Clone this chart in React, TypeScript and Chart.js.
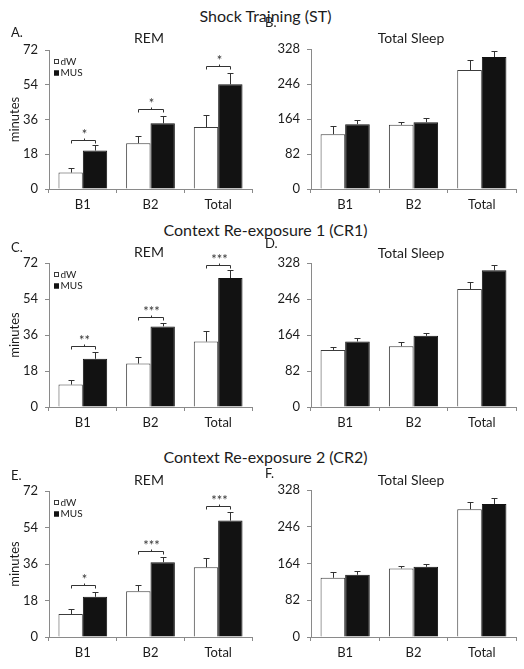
import React, { useEffect, useRef } from 'react';
import { Chart, registerables } from 'chart.js';

Chart.register(...registerables);

// ---------- data ----------
const categories = ['B1', 'B2', 'Total'];
const seriesNames = ['dW', 'MUS'];

const rowTitles = ['Shock Training (ST)', 'Context Re-exposure 1 (CR1)', 'Context Re-exposure 2 (CR2)'];
const panelLetters = ['A.', 'B.', 'C.', 'D.', 'E.', 'F.'];
const panelTitles = ['REM', 'Total Sleep'];
const yAxisTitle = 'minutes';

const remTicks = [0, 18, 36, 54, 72];
const sleepTicks = [0, 82, 164, 246, 328];

// Shock Training (ST)
const stRemDW = [8.5, 23.7, 32.1];
const stRemDWErr = [2.6, 3.8, 6.4];
const stRemMUS = [19.9, 34.0, 54.2];
const stRemMUSErr = [2.9, 4.0, 5.9];
const stRemBracket = [25.4, 41.5, 63.9];
const stRemStars = ['*', '*', '*'];
const stSleepDW = [128.4, 150.3, 278.7];
const stSleepDWErr = [19.6, 6.0, 22.7];
const stSleepMUS = [151.9, 156.6, 309.2];
const stSleepMUSErr = [10.0, 9.4, 15.0];

// Context Re-exposure 1 (CR1)
const cr1RemDW = [11.2, 21.7, 32.7];
const cr1RemDWErr = [2.2, 3.5, 5.5];
const cr1RemMUS = [24.1, 40.3, 64.5];
const cr1RemMUSErr = [3.3, 1.8, 3.8];
const cr1RemBracket = [30.7, 44.9, 70.8];
const cr1RemStars = ['**', '***', '***'];
const cr1SleepDW = [130.1, 138.5, 268.6];
const cr1SleepDWErr = [7.6, 9.0, 16.0];
const cr1SleepMUS = [149.2, 162.1, 311.3];
const cr1SleepMUSErr = [9.0, 6.0, 12.0];

// Context Re-exposure 2 (CR2)
const cr2RemDW = [11.3, 22.6, 34.4];
const cr2RemDWErr = [2.5, 2.8, 4.5];
const cr2RemMUS = [19.8, 36.9, 57.4];
const cr2RemMUSErr = [2.5, 2.5, 4.1];
const cr2RemBracket = [25.7, 42.5, 64.5];
const cr2RemStars = ['*', '***', '***'];
const cr2SleepDW = [132.1, 152.9, 285.0];
const cr2SleepDWErr = [12.6, 4.5, 16.0];
const cr2SleepMUS = [138.8, 156.6, 296.8];
const cr2SleepMUSErr = [9.0, 6.7, 14.0];

// ---------- styling ----------
const FONT = 'Lato, "Open Sans", sans-serif';
const TEXT = '#1c1c1c';
const AXIS = '#8a8a8a';
const INK = '#333333';
const WHITE_FILL = '#ffffff';
const WHITE_EDGE = '#3c3c3c';
const BLACK_FILL = '#121212';

type PanelCfg = {
  key: string;
  left: number;
  top: number;
  width: number;
  height: number;
  padTop: number;
  padRight: number;
  ticks: number[];
  dw: number[];
  dwErr: number[];
  mus: number[];
  musErr: number[];
  bracket?: number[];
  stars?: string[];
  legend: boolean;
  yTitle: boolean;
};

const panels: PanelCfg[] = [
  { key: 'A', left: 0, top: 26, width: 262, height: 189, padTop: 24, padRight: 10, ticks: remTicks,
    dw: stRemDW, dwErr: stRemDWErr, mus: stRemMUS, musErr: stRemMUSErr, bracket: stRemBracket, stars: stRemStars, legend: true, yTitle: true },
  { key: 'B', left: 262, top: 26, width: 262, height: 189, padTop: 23, padRight: 8, ticks: sleepTicks,
    dw: stSleepDW, dwErr: stSleepDWErr, mus: stSleepMUS, musErr: stSleepMUSErr, legend: false, yTitle: false },
  { key: 'C', left: 0, top: 240, width: 262, height: 193, padTop: 23, padRight: 10, ticks: remTicks,
    dw: cr1RemDW, dwErr: cr1RemDWErr, mus: cr1RemMUS, musErr: cr1RemMUSErr, bracket: cr1RemBracket, stars: cr1RemStars, legend: true, yTitle: true },
  { key: 'D', left: 262, top: 240, width: 262, height: 193, padTop: 23, padRight: 8, ticks: sleepTicks,
    dw: cr1SleepDW, dwErr: cr1SleepDWErr, mus: cr1SleepMUS, musErr: cr1SleepMUSErr, legend: false, yTitle: false },
  { key: 'E', left: 0, top: 466, width: 262, height: 197, padTop: 25, padRight: 10, ticks: remTicks,
    dw: cr2RemDW, dwErr: cr2RemDWErr, mus: cr2RemMUS, musErr: cr2RemMUSErr, bracket: cr2RemBracket, stars: cr2RemStars, legend: true, yTitle: true },
  { key: 'F', left: 262, top: 466, width: 262, height: 197, padTop: 24, padRight: 8, ticks: sleepTicks,
    dw: cr2SleepDW, dwErr: cr2SleepDWErr, mus: cr2SleepMUS, musErr: cr2SleepMUSErr, legend: false, yTitle: false },
];

function makePlugins(cfg: PanelCfg) {
  const errorBars = {
    id: 'errorBars',
    afterDatasetsDraw(chart: any) {
      const ctx = chart.ctx;
      const yScale = chart.scales.y;
      const errs = [cfg.dwErr, cfg.musErr];
      const vals = [cfg.dw, cfg.mus];
      ctx.save();
      ctx.strokeStyle = INK;
      ctx.lineWidth = 1;
      for (let d = 0; d < 2; d++) {
        const meta = chart.getDatasetMeta(d);
        meta.data.forEach((el: any, i: number) => {
          const x = Math.round(el.x) + 0.5;
          const y0 = yScale.getPixelForValue(vals[d][i]);
          const y1 = Math.round(yScale.getPixelForValue(vals[d][i] + errs[d][i])) + 0.5;
          ctx.beginPath();
          ctx.moveTo(x, y0);
          ctx.lineTo(x, y1);
          ctx.moveTo(x - 3, y1);
          ctx.lineTo(x + 3, y1);
          ctx.stroke();
        });
      }
      ctx.restore();
    },
  };

  const brackets = {
    id: 'sigBrackets',
    afterDatasetsDraw(chart: any) {
      if (!cfg.bracket || !cfg.stars) return;
      const ctx = chart.ctx;
      const yScale = chart.scales.y;
      const m0 = chart.getDatasetMeta(0);
      const m1 = chart.getDatasetMeta(1);
      ctx.save();
      ctx.strokeStyle = INK;
      ctx.fillStyle = INK;
      ctx.lineWidth = 1;
      cfg.bracket.forEach((v, i) => {
        const xl = Math.round(m0.data[i].x) + 0.5;
        const xr = Math.round(m1.data[i].x) + 0.5;
        const xc = Math.round((xl + xr) / 2) + 0.5;
        const y = Math.round(yScale.getPixelForValue(v)) + 0.5;
        ctx.beginPath();
        ctx.moveTo(xl, y + 3);
        ctx.lineTo(xl, y);
        ctx.lineTo(xr, y);
        ctx.lineTo(xr, y + 3);
        ctx.moveTo(xc, y);
        ctx.lineTo(xc, y - 2);
        ctx.stroke();
        ctx.font = `13px ${FONT}`;
        ctx.textAlign = 'center';
        ctx.textBaseline = 'alphabetic';
        ctx.fillText(cfg.stars![i], xc, y - 1.5);
      });
      ctx.restore();
    },
  };

  const miniLegend = {
    id: 'miniLegend',
    afterDraw(chart: any) {
      if (!cfg.legend) return;
      const ctx = chart.ctx;
      const area = chart.chartArea;
      ctx.save();
      ctx.font = `10px ${FONT}`;
      ctx.textBaseline = 'middle';
      ctx.textAlign = 'left';
      chart.data.datasets.forEach((ds: any, i: number) => {
        const cy = area.top + 11 + i * 11.5;
        const bx = area.left + 5;
        ctx.fillStyle = ds.backgroundColor;
        ctx.fillRect(bx, cy - 2, 5, 5);
        ctx.strokeStyle = ds.borderColor;
        ctx.lineWidth = 1;
        ctx.strokeRect(bx + 0.5, cy - 1.5, 4, 4);
        ctx.fillStyle = TEXT;
        ctx.fillText(ds.label, bx + 6.5, cy + 0.5);
      });
      ctx.restore();
    },
  };

  return [errorBars, brackets, miniLegend];
}

function Panel({ cfg }: { cfg: PanelCfg }) {
  const ref = useRef<HTMLCanvasElement | null>(null);

  useEffect(() => {
    if (!ref.current) return;
    const ticks = cfg.ticks;
    const chart = new Chart(ref.current, {
      type: 'bar',
      data: {
        labels: categories,
        datasets: [
          {
            label: seriesNames[0],
            data: cfg.dw,
            backgroundColor: WHITE_FILL,
            borderColor: WHITE_EDGE,
            borderWidth: 1,
            barPercentage: 1,
            categoryPercentage: 0.72,
          },
          {
            label: seriesNames[1],
            data: cfg.mus,
            backgroundColor: BLACK_FILL,
            borderColor: BLACK_FILL,
            borderWidth: 1,
            barPercentage: 1,
            categoryPercentage: 0.72,
          },
        ],
      },
      options: {
        responsive: false,
        animation: false,
        devicePixelRatio: 1,
        events: [],
        layout: { padding: { top: cfg.padTop, right: cfg.padRight, bottom: 0, left: 0 } },
        plugins: {
          legend: { display: false },
          tooltip: { enabled: false },
          title: { display: false },
        },
        scales: {
          x: {
            grid: {
              display: true,
              drawOnChartArea: false,
              drawTicks: true,
              tickLength: 4,
              color: AXIS,
              offset: true,
            },
            border: { display: true, color: AXIS, width: 1 },
            ticks: { font: { family: FONT, size: 13 }, color: TEXT, padding: 4 },
            afterFit: (s: any) => {
              s.height = 26;
            },
          },
          y: {
            min: ticks[0],
            max: ticks[ticks.length - 1],
            afterBuildTicks: (s: any) => {
              s.ticks = ticks.map((v) => ({ value: v }));
            },
            grid: {
              display: true,
              drawOnChartArea: false,
              drawTicks: true,
              tickLength: 4,
              color: AXIS,
            },
            border: { display: true, color: AXIS, width: 1 },
            ticks: { font: { family: FONT, size: 13 }, color: TEXT, padding: 7 },
            title: {
              display: cfg.yTitle,
              text: yAxisTitle,
              font: { family: FONT, size: 13 },
              color: TEXT,
              padding: { top: 7, bottom: 0 },
            },
            afterFit: (s: any) => {
              s.width = 49;
            },
          },
        },
      },
      plugins: makePlugins(cfg),
    } as any);
    return () => chart.destroy();
  }, [cfg]);

  return (
    <canvas
      ref={ref}
      width={cfg.width}
      height={cfg.height}
      style={{ position: 'absolute', left: cfg.left, top: cfg.top, width: cfg.width, height: cfg.height }}
    />
  );
}

const textBase: React.CSSProperties = {
  position: 'absolute',
  fontFamily: FONT,
  color: TEXT,
  lineHeight: 1,
  whiteSpace: 'nowrap',
  zIndex: 2,
};

const rowTitleTops = [7.5, 221.5, 449];
const letterPos = [
  [11, 26], [265, 16], [11, 241], [265, 237], [11, 468.5], [265, 467],
];
const panelTitleTops = [
  [31, 31], [245.3, 246], [472.6, 472.6],
];
const panelTitleCenters = [149, 411];

export default function App() {
  return (
    <div style={{ position: 'absolute', left: 0, top: 0, width: 524, height: 669, background: '#fff', overflow: 'hidden' }}>
      {panels.map((p) => (
        <Panel key={p.key} cfg={p} />
      ))}
      {rowTitles.map((t, i) => (
        <div key={t} style={{ ...textBase, left: 0, width: 531, textAlign: 'center', top: rowTitleTops[i], fontSize: 16 }}>
          {t}
        </div>
      ))}
      {panelLetters.map((l, i) => (
        <div key={l} style={{ ...textBase, left: letterPos[i][0], top: letterPos[i][1], fontSize: 13 }}>
          {l}
        </div>
      ))}
      {panelTitleTops.map((row, r) =>
        row.map((top, c) => (
          <div
            key={`${r}-${c}`}
            style={{ ...textBase, left: panelTitleCenters[c] - 60, width: 120, textAlign: 'center', top, fontSize: 14 }}
          >
            {panelTitles[c]}
          </div>
        ))
      )}
    </div>
  );
}
